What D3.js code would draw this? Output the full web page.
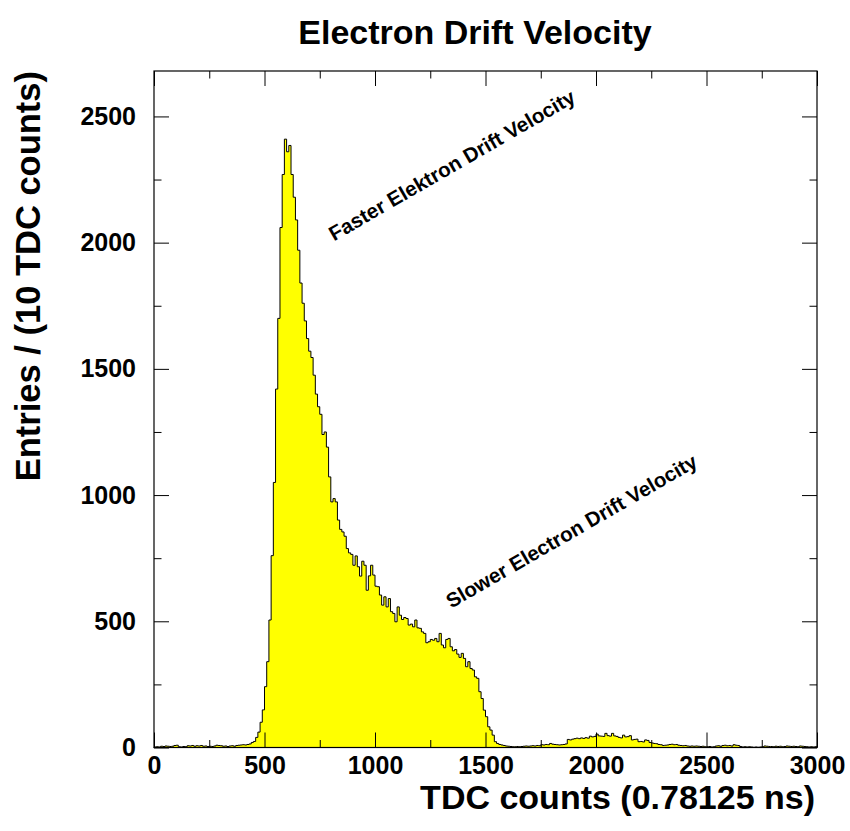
<!DOCTYPE html>
<html>
<head>
<meta charset="utf-8">
<script src="https://cdn.jsdelivr.net/npm/d3@7"></script>
<style>
  html, body { margin: 0; padding: 0; background: #fff; }
  svg text { font-family: "Liberation Sans", Arial, Helvetica, sans-serif; font-weight: bold; fill: #000; }
</style>
</head>
<body>
<svg id="chart" width="850" height="831"></svg>
<script>
// ---- data ----
const binWidth = 10;             // TDC counts per bin
const xDomain = [0, 3000];
const yDomain = [0, 2680];
const counts = [
  2,3,2,5,4,6,5,4,5,8,
  9,3,2,4,3,7,6,8,5,7,
  6,8,5,6,4,5,4,6,9,8,
  7,5,6,4,6,7,5,8,9,10,
  11,10,12,14,20,24,40,61,100,149,
  241,340,505,760,1050,1420,1700,2060,2270,2410,
  2360,2385,2270,2180,2090,1970,1840,1760,1690,1620,
  1570,1545,1475,1400,1350,1320,1240,1250,1190,1072,
  973,986,973,901,864,854,837,788,771,765,
  722,759,716,679,738,722,623,680,722,683,
  639,637,604,564,597,557,590,538,531,498,
  557,524,507,515,511,485,489,478,505,474,
  472,458,452,415,419,428,425,432,419,452,
  406,395,428,432,399,383,388,370,357,373,
  353,320,340,313,307,280,274,221,194,148,
  122,82,69,49,23,16,12,10,8,6,
  5,4,3,3,4,3,4,5,6,5,
  6,7,6,8,7,11,10,12,11,16,
  13,12,11,10,11,12,14,32,30,33,
  35,37,35,38,36,39,37,45,42,44,
  53,46,45,44,56,47,45,56,46,44,
  40,38,49,42,43,47,30,32,33,23,
  24,22,30,28,20,18,16,15,12,11,
  8,9,10,12,13,11,12,9,8,7,
  8,6,5,6,5,6,5,4,5,3,
  3,4,2,3,6,7,5,8,9,7,
  8,6,11,9,8,4,2,3,2,3,
  2,1,2,1,2,3,6,5,4,4,
  3,5,4,5,3,4,6,5,4,5,
  4,3,6,5,4,3,2,3,2,3
];
const xMajorTicks = [0, 500, 1000, 1500, 2000, 2500, 3000];
const xMinorTicks = [250, 750, 1250, 1750, 2250, 2750];
const yMajorTicks = [0, 500, 1000, 1500, 2000, 2500];
const yMinorTicks = [250, 750, 1250, 1750, 2250];
const titleText = "Electron Drift Velocity";
const xTitle = "TDC counts (0.78125 ns)";
const yTitle = "Entries / (10 TDC counts)";
const annotations = [
  { text: "Faster Elektron Drift Velocity", x: 815, y: 2005 },
  { text: "Slower Electron Drift Velocity", x: 1345, y: 550 }
];

// ---- layout ----
const L = 154, R = 817, T = 71, B = 747.5;
const svg = d3.select("#chart");
const x = d3.scaleLinear().domain(xDomain).range([L, R]);
const y = d3.scaleLinear().domain(yDomain).range([B, T]);

// histogram step path
const bins = counts.map((c, i) => ({ x0: i * binWidth, x1: (i + 1) * binWidth, c }));
const pts = [[bins[0].x0, 0]];
bins.forEach(b => { pts.push([b.x0, b.c]); pts.push([b.x1, b.c]); });
pts.push([bins[bins.length - 1].x1, 0]);
const line = d3.line().x(d => x(d[0])).y(d => y(d[1]));

svg.append("path")
  .attr("d", line(pts) + "Z")
  .attr("fill", "#ffff00")
  .attr("stroke", "#000")
  .attr("stroke-width", 1)
  .attr("stroke-linejoin", "miter");

// frame
svg.append("rect")
  .attr("x", L).attr("y", T).attr("width", R - L).attr("height", B - T)
  .attr("fill", "none").attr("stroke", "#000").attr("stroke-width", 1.2);

const majorLen = 15, minorLen = 7.5;
// bottom axis (ticks inward, labels)
svg.append("g").attr("transform", `translate(0,${B})`)
  .call(d3.axisBottom(x).tickValues(xMajorTicks).tickSize(-majorLen).tickPadding(9).tickFormat(d3.format("d")));
svg.append("g").attr("transform", `translate(0,${B})`)
  .call(d3.axisBottom(x).tickValues(xMinorTicks).tickSize(-minorLen).tickFormat(""));
// top axis
svg.append("g").attr("transform", `translate(0,${T})`)
  .call(d3.axisTop(x).tickValues(xMajorTicks).tickSize(-majorLen).tickFormat(""));
svg.append("g").attr("transform", `translate(0,${T})`)
  .call(d3.axisTop(x).tickValues(xMinorTicks).tickSize(-minorLen).tickFormat(""));
// left axis
svg.append("g").attr("transform", `translate(${L},0)`)
  .call(d3.axisLeft(y).tickValues(yMajorTicks).tickSize(-majorLen).tickPadding(18).tickFormat(d3.format("d")));
svg.append("g").attr("transform", `translate(${L},0)`)
  .call(d3.axisLeft(y).tickValues(yMinorTicks).tickSize(-minorLen).tickFormat(""));
// right axis
svg.append("g").attr("transform", `translate(${R},0)`)
  .call(d3.axisRight(y).tickValues(yMajorTicks).tickSize(-majorLen).tickFormat(""));
svg.append("g").attr("transform", `translate(${R},0)`)
  .call(d3.axisRight(y).tickValues(yMinorTicks).tickSize(-minorLen).tickFormat(""));

svg.selectAll(".domain").remove();
svg.selectAll(".tick line").attr("stroke", "#000").attr("stroke-width", 1);
svg.selectAll(".tick text").style("font-size", "25px").style("font-family", "'Liberation Sans', Arial, sans-serif").style("font-weight", "bold");

// titles
svg.append("text").attr("x", 475).attr("y", 44).attr("text-anchor", "middle")
  .style("font-size", "34px").text(titleText);
svg.append("text").attr("x", 815).attr("y", 809).attr("text-anchor", "end")
  .style("font-size", "34px").text(xTitle);
svg.append("text").attr("transform", `translate(40,${T}) rotate(-90)`).attr("text-anchor", "end")
  .style("font-size", "34.5px").text(yTitle);

// annotations
annotations.forEach(a => {
  svg.append("text")
    .attr("transform", `translate(${x(a.x)},${y(a.y)}) rotate(-30)`)
    .style("font-size", "20.5px")
    .text(a.text);
});
</script>
</body>
</html>
